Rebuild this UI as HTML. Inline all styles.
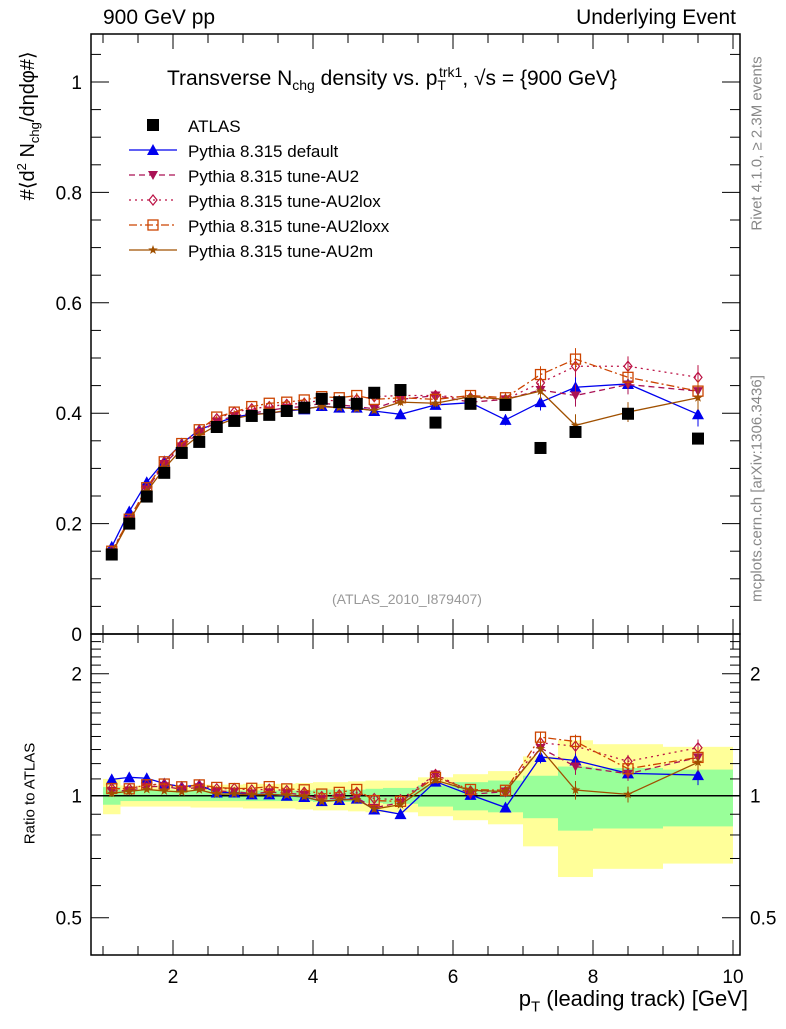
<!DOCTYPE html>
<html><head><meta charset="utf-8"><style>
body{margin:0;background:#fff}
svg text{font-family:"Liberation Sans",Arial,sans-serif}
</style></head><body>
<svg id="c" width="786" height="1024" xmlns="http://www.w3.org/2000/svg"></svg>
<script>
const xs=[1.125,1.375,1.625,1.875,2.125,2.375,2.625,2.875,3.125,3.375,3.625,3.875,4.125,4.375,4.625,4.875,5.25,5.75,6.25,6.75,7.25,7.75,8.5,9.5];
const edges=[1,1.25,1.5,1.75,2,2.25,2.5,2.75,3,3.25,3.5,3.75,4,4.25,4.5,4.75,5,5.5,6,6.5,7,7.5,8,9,10];
const atlas=[0.144,0.200,0.249,0.292,0.328,0.348,0.375,0.386,0.395,0.397,0.404,0.410,0.426,0.420,0.417,0.437,0.442,0.383,0.417,0.415,0.337,0.366,0.399,0.354];
const relGreen=[0.05,0.03,0.03,0.03,0.03,0.03,0.03,0.03,0.03,0.03,0.03,0.03,0.035,0.035,0.035,0.04,0.045,0.06,0.08,0.09,0.12,0.18,0.17,0.16];
const relYellow=[0.1,0.06,0.06,0.06,0.06,0.065,0.065,0.065,0.07,0.07,0.07,0.075,0.08,0.08,0.085,0.09,0.09,0.11,0.13,0.15,0.25,0.37,0.34,0.32];
const sDefault=[0.158,0.222,0.275,0.313,0.345,0.370,0.382,0.393,0.398,0.400,0.404,0.407,0.413,0.410,0.410,0.404,0.398,0.415,0.419,0.388,0.420,0.447,0.453,0.398];
const sAU2=[0.148,0.206,0.262,0.308,0.340,0.365,0.385,0.395,0.400,0.405,0.410,0.412,0.418,0.415,0.412,0.408,0.425,0.432,0.420,0.425,0.442,0.432,0.452,0.440];
const sAU2lox=[0.150,0.208,0.265,0.311,0.343,0.368,0.390,0.402,0.408,0.412,0.416,0.418,0.424,0.422,0.425,0.430,0.432,0.432,0.428,0.425,0.455,0.485,0.485,0.465];
const sAU2loxx=[0.150,0.208,0.265,0.312,0.345,0.370,0.393,0.402,0.412,0.418,0.420,0.424,0.430,0.428,0.432,0.425,0.428,0.425,0.432,0.428,0.470,0.498,0.465,0.440];
const sAU2m=[0.146,0.205,0.258,0.300,0.335,0.360,0.378,0.390,0.397,0.400,0.405,0.408,0.412,0.410,0.408,0.405,0.420,0.418,0.430,0.425,0.440,0.378,0.402,0.428];
const mcErr=[0.003,0.003,0.003,0.003,0.003,0.003,0.003,0.003,0.003,0.003,0.004,0.004,0.004,0.005,0.005,0.005,0.006,0.007,0.008,0.01,0.015,0.02,0.018,0.022];
const xTicks=[2,4,6,8,10];
const yTicks=[0,0.2,0.4,0.6,0.8,1];
const rTicks=[0.5,1,2];

const L=91,R=740,T=34,MB=634,RB=955;
const X=v=>33+70*v;
const Y=v=>634-552*v;
const RY=v=>795.7-122*Math.log2(v);
const S=document.getElementById('c');
function el(t,a,txt){const e=document.createElementNS('http://www.w3.org/2000/svg',t);for(const k in a)e.setAttribute(k,a[k]);if(txt!==undefined)e.textContent=txt;S.appendChild(e);return e;}
function nm(e,n){return e;}

// bands
for(let i=0;i<xs.length;i++){
 let e=el('rect',{x:X(edges[i]),y:RY(1+relYellow[i]),width:X(edges[i+1])-X(edges[i]),height:RY(1-relYellow[i])-RY(1+relYellow[i]),fill:'#ffff99'});
 
 
 e=el('rect',{x:X(edges[i]),y:RY(1+relGreen[i]),width:X(edges[i+1])-X(edges[i]),height:RY(1-relGreen[i])-RY(1+relGreen[i]),fill:'#99ff99'});
 
 
}
nm(el('line',{x1:L,x2:R,y1:RY(1),y2:RY(1),stroke:'#000','stroke-width':1.5}),'ratio-unity-line');

// frames
nm(el('rect',{x:L,y:T,width:R-L,height:MB-T,fill:'none',stroke:'#000','stroke-width':1.5}),'main-frame');
nm(el('rect',{x:L,y:MB,width:R-L,height:RB-MB,fill:'none',stroke:'#000','stroke-width':1.5}),'ratio-frame');

// x ticks
for(let v=1;v<=10;v+=0.5){
 const major=xTicks.includes(v);const len=major?15:9;
 for(const [top,bot] of [[T,MB],[MB,RB]]){
  el('line',{x1:X(v),x2:X(v),y1:bot,y2:bot-len,stroke:'#000'});
  el('line',{x1:X(v),x2:X(v),y1:top,y2:top+len,stroke:'#000'});
 }
}
xTicks.forEach(v=>{const e=el('text',{x:X(v),y:983,'font-size':19,'text-anchor':'middle'},v);});
// y ticks main
for(let v=0;v<=1.09;v+=0.05){
 const major=Math.abs(v*5-Math.round(v*5))<1e-6;const len=major?18:10;
 el('line',{x1:L,x2:L+len,y1:Y(v),y2:Y(v),stroke:'#000'});
 el('line',{x1:R,x2:R-len,y1:Y(v),y2:Y(v),stroke:'#000'});
}
yTicks.forEach(v=>{const e=el('text',{x:82,y:Y(v)+7,'font-size':19,'text-anchor':'end'},v===0?'0':String(v));});
// ratio ticks
[0.5,0.6,0.7,0.8,0.9,1,1.1,1.2,1.3,1.4,1.5,1.6,1.7,1.8,1.9,2,2.1,2.2,2.3,2.4].forEach(v=>{
 const major=rTicks.includes(v);const len=major?18:10;
 el('line',{x1:L,x2:L+len,y1:RY(v),y2:RY(v),stroke:'#000'});
 el('line',{x1:R,x2:R-len,y1:RY(v),y2:RY(v),stroke:'#000'});
});
rTicks.forEach(v=>{let e=el('text',{x:82,y:RY(v)+7,'font-size':19,'text-anchor':'end'},v);
 e=el('text',{x:750,y:RY(v)+7,'font-size':19},v);});

// series
const series=[
 {n:'default',d:sDefault,c:'#0000ee',dash:'',m:'tri'},
 {n:'au2',d:sAU2,c:'#aa1155',dash:'6,4',m:'dtri'},
 {n:'au2lox',d:sAU2lox,c:'#bb1144',dash:'2,4',m:'dia'},
 {n:'au2loxx',d:sAU2loxx,c:'#cc4400',dash:'8,3,2,3',m:'sq'},
 {n:'au2m',d:sAU2m,c:'#a05000',dash:'',m:'star'}];
function marker(t,x,y,c){
 if(t==='tri')return el('polygon',{points:`${x},${y-6} ${x-6},${y+5} ${x+6},${y+5}`,fill:c});
 if(t==='dtri')return el('polygon',{points:`${x},${y+5} ${x-5},${y-4} ${x+5},${y-4}`,fill:c});
 if(t==='dia')return el('polygon',{points:`${x},${y-5} ${x-4},${y} ${x},${y+5} ${x+4},${y}`,fill:'none',stroke:c,'stroke-width':1.2});
 if(t==='sq')return el('rect',{x:x-5,y:y-5,width:10,height:10,fill:'none',stroke:c,'stroke-width':1.3});
 if(t==='star'){let p=[];for(let k=0;k<10;k++){const r=k%2?2:5,a=-Math.PI/2+k*Math.PI/5;p.push((x+r*Math.cos(a)).toFixed(1)+','+(y+r*Math.sin(a)).toFixed(1));}return el('polygon',{points:p.join(' '),fill:c});}
}
series.forEach(s=>{
 const pm=xs.map((x,i)=>X(x)+','+Y(s.d[i])).join(' ');
 let e=el('polyline',{points:pm,fill:'none',stroke:s.c,'stroke-width':1.3,'stroke-dasharray':s.dash});
 
 
 const pr=xs.map((x,i)=>X(x)+','+RY(s.d[i]/atlas[i])).join(' ');
 e=el('polyline',{points:pr,fill:'none',stroke:s.c,'stroke-width':1.3,'stroke-dasharray':s.dash});
 
 
 xs.forEach((x,i)=>{
  const v=s.d[i],er=mcErr[i];
  el('line',{x1:X(x),x2:X(x),y1:Y(v-er),y2:Y(v+er),stroke:s.c});
  el('line',{x1:X(x),x2:X(x),y1:RY((v-er)/atlas[i]),y2:RY((v+er)/atlas[i]),stroke:s.c});
  let m=marker(s.m,X(x),Y(v),s.c);
  
  
  m=marker(s.m,X(x),RY(v/atlas[i]),s.c);
  
  
 });
});
xs.forEach((x,i)=>{const e=el('rect',{x:X(x)-6,y:Y(atlas[i])-6,width:12,height:12,fill:'#000'});
 
 });

// legend
const lg=[['ATLAS','#000','','atlas'],['Pythia 8.315 default','#0000ee','','tri'],['Pythia 8.315 tune-AU2','#aa1155','6,4','dtri'],['Pythia 8.315 tune-AU2lox','#bb1144','2,4','dia'],['Pythia 8.315 tune-AU2loxx','#cc4400','8,3,2,3','sq'],['Pythia 8.315 tune-AU2m','#a05000','','star']];
lg.forEach((l,i)=>{const y=125+25*i;
 if(l[3]==='atlas'){el('rect',{x:147,y:y-6,width:12,height:12,fill:'#000'});}
 else{el('line',{x1:129,x2:177,y1:y,y2:y,stroke:l[1],'stroke-width':1.3,'stroke-dasharray':l[2]});marker(l[3],153,y,l[1]);}
 const e=el('text',{x:188,y:y+7,'font-size':17},l[0]);});
</script>
<div style="position:absolute;left:0;top:0;width:786px;height:1024px;font-family:'Liberation Sans',Arial,sans-serif;pointer-events:none">
<div style="position:absolute;left:103px;top:6px;font-size:21px">900 GeV pp</div>
<div style="position:absolute;right:50px;top:6px;font-size:21px">Underlying Event</div>
<div style="position:absolute;left:167px;top:64px;font-size:21px;white-space:nowrap">Transverse N<sub style="font-size:14px">chg</sub> density vs. p<sub style="font-size:14px">T</sub><sup style="font-size:14px;margin-left:-7px">trk1</sup>, √s = {900 GeV}</div>
<div style="position:absolute;left:-92px;top:112px;width:240px;transform:rotate(-90deg);font-size:20px;white-space:nowrap;text-align:center">#⟨d<sup style="font-size:13px">2</sup> N<sub style="font-size:13px">chg</sub>/dηdφ#⟩</div>
<div style="position:absolute;left:-30px;top:785px;width:120px;transform:rotate(-90deg);font-size:15px;white-space:nowrap;text-align:center">Ratio to ATLAS</div>
<div style="position:absolute;right:38px;top:986px;font-size:22px;white-space:nowrap">p<sub style="font-size:15px">T</sub> (leading track) [GeV]</div>
<div style="position:absolute;left:332px;top:591px;font-size:14px;color:#999">(ATLAS_2010_I879407)</div>
<div style="position:absolute;left:657px;top:135px;width:200px;transform:rotate(-90deg);font-size:15px;color:#888;white-space:nowrap;text-align:center">Rivet 4.1.0, ≥ 2.3M events</div>
<div style="position:absolute;left:607px;top:480px;width:300px;transform:rotate(-90deg);font-size:15px;color:#888;white-space:nowrap;text-align:center">mcplots.cern.ch [arXiv:1306.3436]</div>
</div>
</body></html>
